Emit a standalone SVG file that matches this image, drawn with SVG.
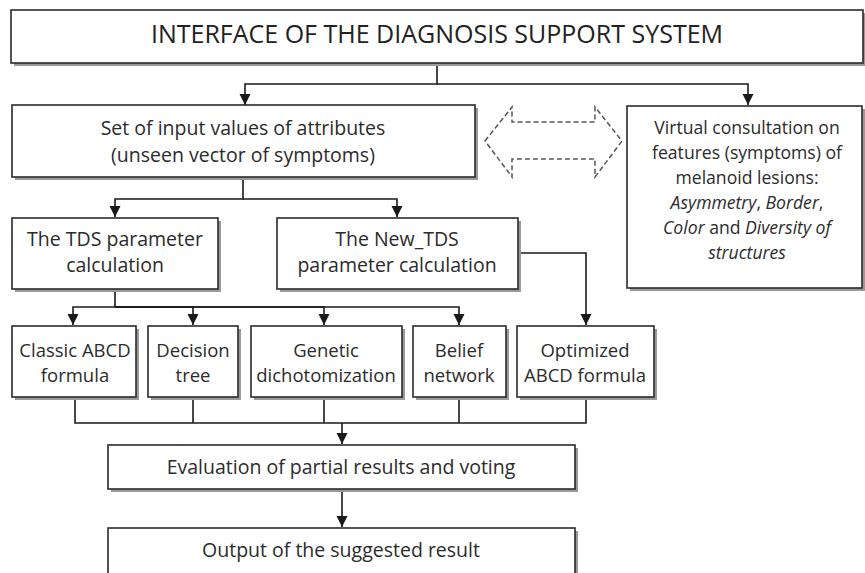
<svg xmlns="http://www.w3.org/2000/svg" width="865" height="573" viewBox="0 0 865 573">
<defs>
<marker id="arr" markerUnits="userSpaceOnUse" markerWidth="12" markerHeight="12" refX="11" refY="5.5" orient="auto">
<path d="M0,0 L11,5.5 L0,11 z" fill="#1a1a1a"/>
</marker>
</defs>
<style>
.box{fill:#fff;stroke:#2a2a2a;stroke-width:1.6}
.sh{fill:#9a9a9a}
.t{font-family:"Open Sans","Noto Sans",sans-serif;font-size:19.5px;fill:#2b2b2b;text-anchor:middle}
.s{font-size:18.5px}
.v{font-size:17.6px}
.tt{font-family:"Open Sans","Noto Sans",sans-serif;font-size:25px;fill:#222;text-anchor:middle}
.i{font-style:italic}
.c{fill:none;stroke:#1a1a1a;stroke-width:1.6}
.ca{fill:none;stroke:#1a1a1a;stroke-width:1.6;marker-end:url(#arr)}
.d{fill:none;stroke:#555;stroke-width:1.5;stroke-dasharray:5 3}
</style>
<rect width="865" height="573" fill="#fff"/>
<g id="connectors">
<path class="ca" d="M437,63 V84 H245 V105"/>
<path class="ca" d="M437,84 H748 V105"/>
<path class="ca" d="M243,177 V199 H115 V217"/>
<path class="ca" d="M243,199 H397 V217"/>
<path class="ca" d="M115,289 V307 H73 V325"/>
<path class="ca" d="M115,307 H193 V325"/>
<path class="ca" d="M115,307 H324 V325"/>
<path class="ca" d="M115,307 H459 V325"/>
<path class="ca" d="M517,253 H586 V325"/>
<path class="c" d="M75,397 V423 H586 V397"/>
<path class="c" d="M193,397 V423 M324,397 V423 M459,397 V423"/>
<path class="ca" d="M342,423 V444"/>
<path class="ca" d="M342,490 V527"/>
<polygon class="d" points="485,141 512,107 512,122 595,122 595,107 622,141 595,177 595,159 512,159 512,177"/>
</g>
<g id="interface">
<rect class="sh" x="14" y="13" width="852" height="53"/>
<rect class="box" x="11" y="10" width="852" height="53"/>
<text class="tt" x="437" y="43">INTERFACE OF THE DIAGNOSIS SUPPORT SYSTEM</text>
</g>
<g id="input">
<rect class="sh" x="15" y="108" width="463" height="72"/>
<rect class="box" x="12" y="105" width="463" height="72"/>
<text class="t" x="243" y="135">Set of input values of attributes</text>
<text class="t" x="243" y="162">(unseen vector of symptoms)</text>
</g>
<g id="virtual">
<rect class="sh" x="630" y="109" width="235" height="182"/>
<rect class="box" x="627" y="106" width="235" height="182"/>
<text class="t v" x="747" y="134">Virtual consultation on</text>
<text class="t v" x="747" y="159">features (symptoms) of</text>
<text class="t v" x="747" y="184">melanoid lesions:</text>
<text class="t v" x="747" y="209"><tspan class="i">Asymmetry</tspan>, <tspan class="i">Border</tspan>,</text>
<text class="t v" x="747" y="234"><tspan class="i">Color</tspan> and <tspan class="i">Diversity of</tspan></text>
<text class="t v i" x="747" y="259">structures</text>
</g>
<g id="tds">
<rect class="sh" x="15" y="221" width="206" height="71"/>
<rect class="box" x="12" y="218" width="206" height="71"/>
<text class="t" x="115" y="246">The TDS parameter</text>
<text class="t" x="115" y="272">calculation</text>
</g>
<g id="newtds">
<rect class="sh" x="280" y="221" width="241" height="71"/>
<rect class="box" x="277" y="218" width="241" height="71"/>
<text class="t" x="397" y="246">The New_TDS</text>
<text class="t" x="397" y="272">parameter calculation</text>
</g>
<g id="classic">
<rect class="sh" x="15" y="329" width="124" height="71"/>
<rect class="box" x="12" y="326" width="124" height="71"/>
<text class="t s" x="75" y="357">Classic ABCD</text>
<text class="t s" x="75" y="382">formula</text>
</g>
<g id="decision">
<rect class="sh" x="151" y="329" width="90" height="71"/>
<rect class="box" x="148" y="326" width="90" height="71"/>
<text class="t s" x="193" y="357">Decision</text>
<text class="t s" x="193" y="382">tree</text>
</g>
<g id="genetic">
<rect class="sh" x="254" y="329" width="151" height="71"/>
<rect class="box" x="251" y="326" width="151" height="71"/>
<text class="t s" x="326" y="357">Genetic</text>
<text class="t s" x="326" y="382">dichotomization</text>
</g>
<g id="belief">
<rect class="sh" x="416" y="329" width="93" height="71"/>
<rect class="box" x="413" y="326" width="93" height="71"/>
<text class="t s" x="459" y="357">Belief</text>
<text class="t s" x="459" y="382">network</text>
</g>
<g id="optimized">
<rect class="sh" x="520" y="329" width="137" height="71"/>
<rect class="box" x="517" y="326" width="137" height="71"/>
<text class="t s" x="585" y="357">Optimized</text>
<text class="t s" x="585" y="382">ABCD formula</text>
</g>
<g id="evaluation">
<rect class="sh" x="111" y="448" width="467" height="44"/>
<rect class="box" x="108" y="445" width="467" height="44"/>
<text class="t" x="341" y="474">Evaluation of partial results and voting</text>
</g>
<g id="output">
<rect class="sh" x="111" y="531" width="467" height="60"/>
<rect class="box" x="108" y="528" width="467" height="60"/>
<text class="t" x="341" y="557">Output of the suggested result</text>
</g>
</svg>
